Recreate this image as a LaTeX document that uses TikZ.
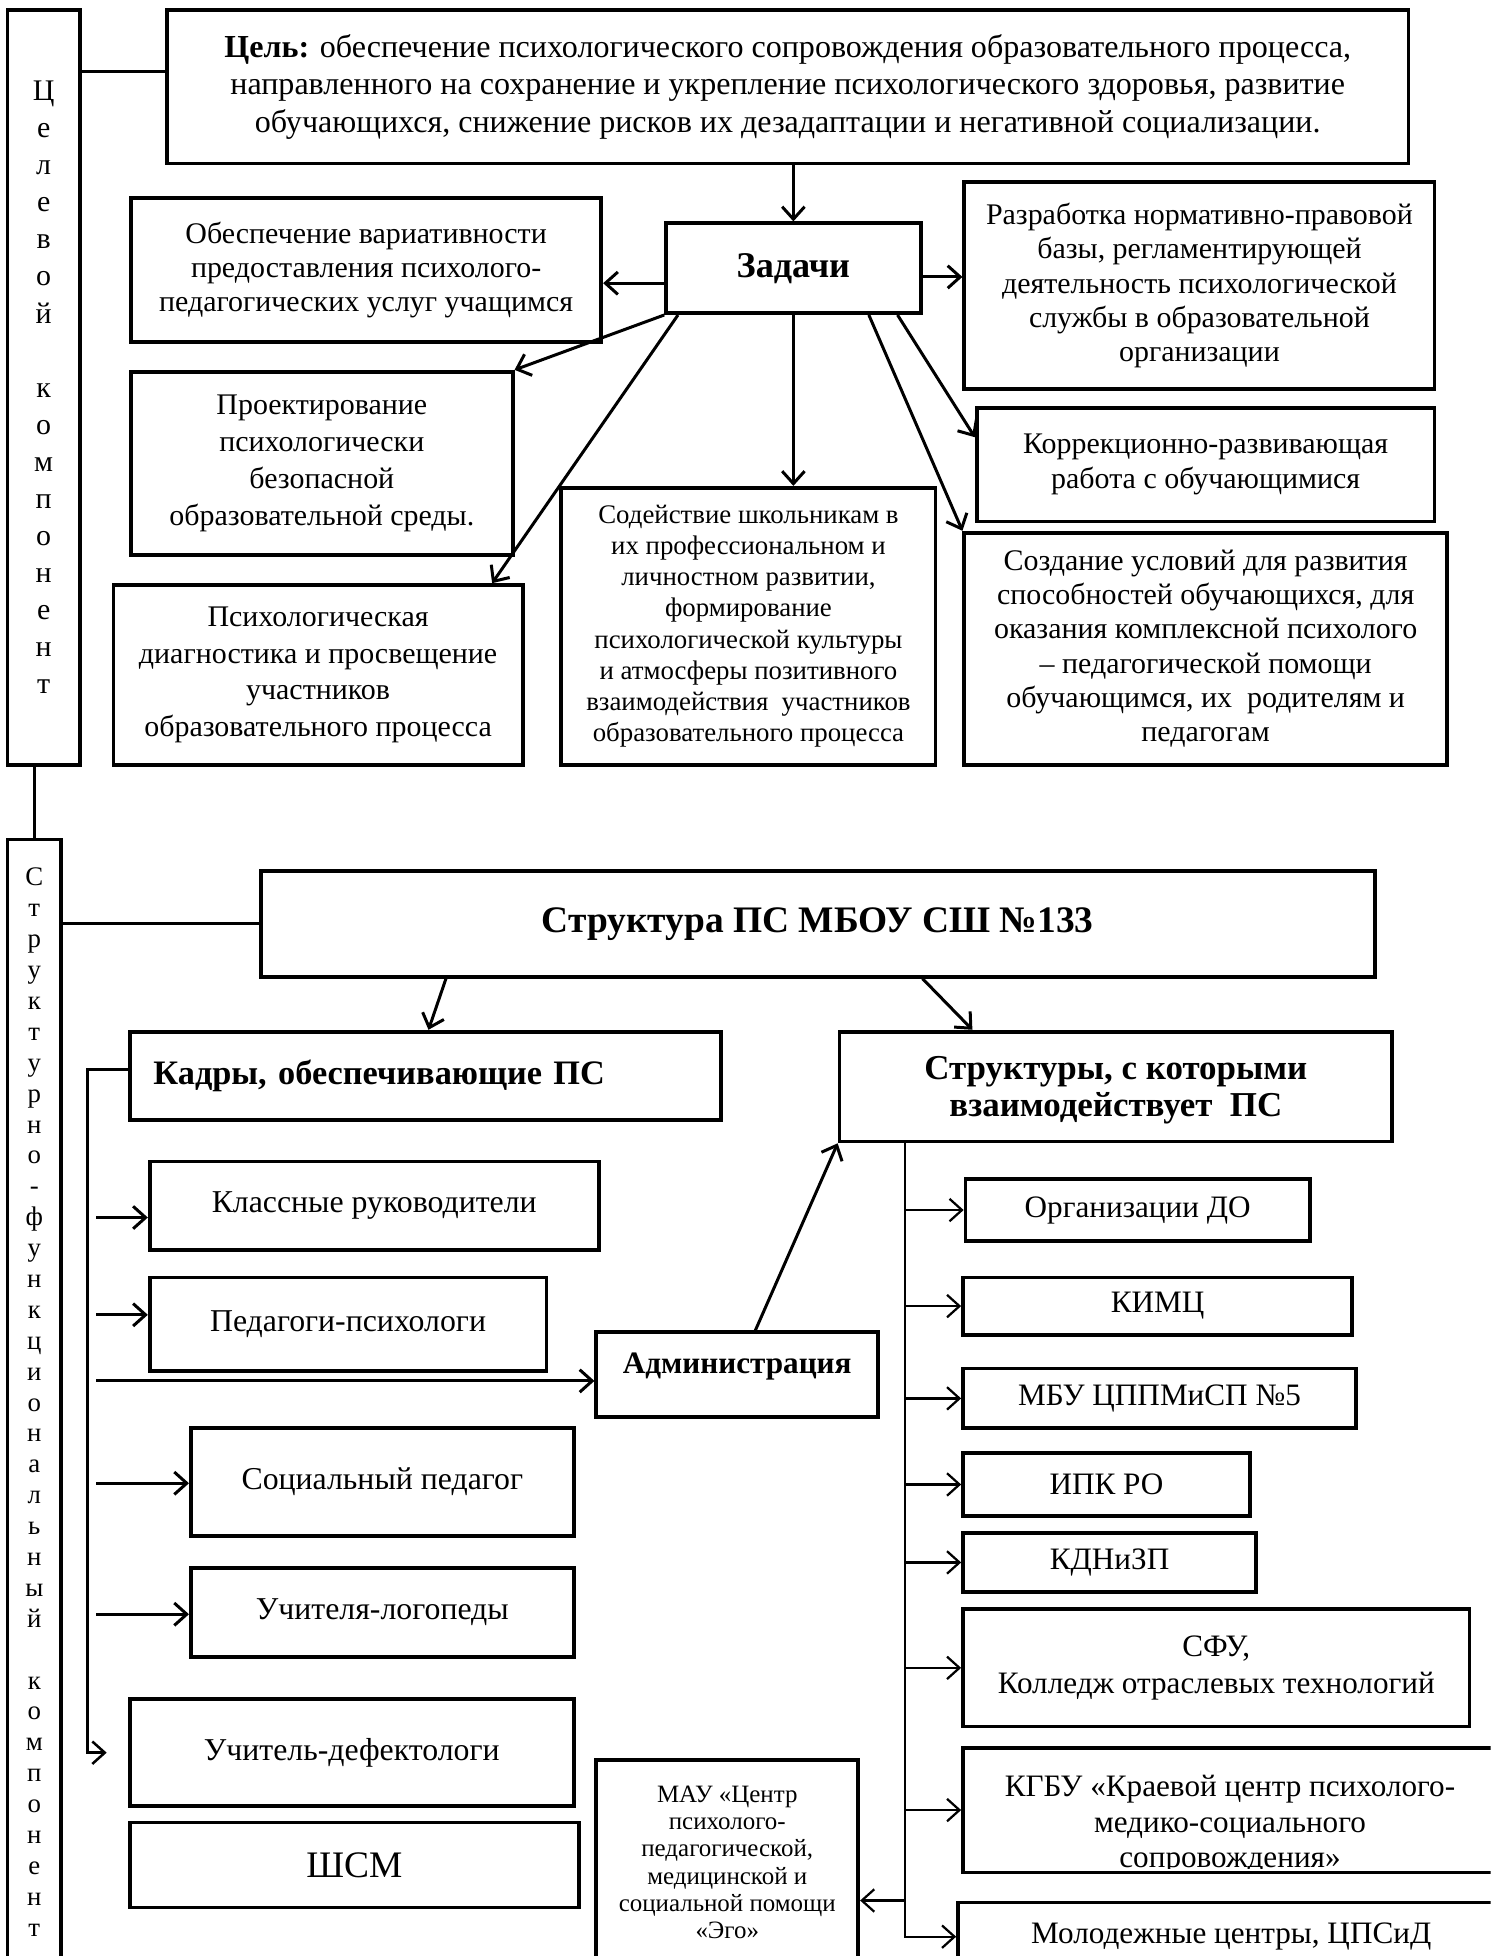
\documentclass[tikz,border=0pt]{standalone}
\usepackage{fontspec}
\setmainfont{Liberation Serif}
\usetikzlibrary{arrows.meta}

\begin{document}
\begin{tikzpicture}[
    x=1pt, y=-1pt,
    % Обычные блоки
    blk/.style={
        draw, line width=3pt, align=center, inner sep=0pt,
        font=\fontsize{24}{28}\selectfont
    },
    % Заголовочные блоки
    blkb/.style={
        blk, font=\fontsize{29}{31}\selectfont\bfseries
    },
    lin/.style={draw, line width=2.4pt},
    strel/.style={draw, line width=2.4pt, -{Straight Barb[length=10pt,width=18pt]}},
    strelt/.style={draw, line width=1.8pt, -{Straight Barb[length=10pt,width=18pt]}}
]

\useasboundingbox (0,0) rectangle (1195,1568);
\clip (0,0) rectangle (1195,1568);

% ---- ЦЕЛЕВОЙ КОМПОНЕНТ ----
\node[blk, minimum width=58, minimum height=605, font=\fontsize{24}{29.7}\selectfont] (cel) at (35,310.5)
    {Ц\\е\\л\\е\\в\\о\\й\\[29.7pt]к\\о\\м\\п\\о\\н\\е\\н\\т};

\node[blk, minimum width=995, minimum height=123, font=\fontsize{25.7}{30}\selectfont] (goal) at (631.5,69.5)
    {\textbf{Цель:} обеспечение психологического сопровождения образовательного процесса,\\
     направленного на сохранение и укрепление психологического здоровья, развитие\\
     обучающихся, снижение рисков их дезадаптации и негативной социализации.};

\coordinate (c_goal) at ([yshift=12.5pt]goal.west);
\draw[lin] (c_goal) -- (c_goal -| cel.east);

% ---- ЗАДАЧИ ----
\node[blkb, minimum width=204, minimum height=72] (zad) at (636,215) {Задачи};
\draw[strel] (zad.north |- goal.south) -- (zad.north);

\node[blk, minimum width=377, minimum height=115, font=\fontsize{24}{27.5}\selectfont] (z1) at (293.5,216.5)
    {Обеспечение вариативности\\предоставления психолого-\\педагогических услуг учащимся};
\node[blk, minimum width=377, minimum height=166, font=\fontsize{24}{27.5}\selectfont] (z2) at (961.5,229)
    {Разработка нормативно-правовой\\базы, регламентирующей\\деятельность психологической\\службы в образовательной\\организации};
\node[blk, minimum width=306, minimum height=147, font=\fontsize{24}{29.5}\selectfont] (z3) at (258,371.5)
    {Проектирование\\психологически\\безопасной\\образовательной среды.};
\node[blk, minimum width=328, minimum height=144, font=\fontsize{24}{29.5}\selectfont] (z4) at (255,541)
    {Психологическая\\диагностика и просвещение\\участников\\образовательного процесса};
\node[blk, minimum width=300, minimum height=222, font=\fontsize{21.5}{25}\selectfont] (z5) at (600,502)
    {Содействие школьникам в\\их профессиональном и\\личностном развитии,\\формирование\\психологической культуры\\и атмосферы позитивного\\взаимодействия~~участников\\образовательного процесса};
\node[blk, minimum width=367, minimum height=91, font=\fontsize{24}{28}\selectfont] (z6) at (966.5,372.5)
    {Коррекционно-развивающая\\работа с обучающимися};
\node[blk, minimum width=387, minimum height=186, font=\fontsize{24}{27.5}\selectfont] (z7) at (966.5,520)
    {Создание условий для развития\\способностей обучающихся, для\\оказания комплексной психолого\\– педагогической помощи\\обучающимся, их~~родителям и\\педагогам};

\coordinate (c_zl) at ([yshift=-12pt]zad.west);
\coordinate (c_zr) at ([yshift=-7pt]zad.east);
\draw[strel] (c_zl) -- (c_zl -| z1.east);
\draw[strel] (c_zr) -- (c_zr -| z2.west);
\draw[strel] (zad.south west) -- (z3.north east);
\draw[strel] ([xshift=11pt]zad.south west) -- ([xshift=-26pt]z4.north east);
\draw[strel] (zad.south) -- (zad.south |- z5.north);
\draw[strel] ([xshift=-20pt]zad.south east) -- ([yshift=22pt]z6.west);
\draw[strel] ([xshift=-43pt]zad.south east) -- (z7.north west);

% ---- СТРУКТУРНО-ФУНКЦИОНАЛЬНЫЙ КОМПОНЕНТ ----
\node[blk, minimum width=43, minimum height=902, font=\fontsize{21.5}{24.76}\selectfont] (sk) at (27.5,1124)
    {С\\т\\р\\у\\к\\т\\у\\р\\н\\о\\-\\ф\\у\\н\\к\\ц\\и\\о\\н\\а\\л\\ь\\н\\ы\\й\\[24.76pt]к\\о\\м\\п\\о\\н\\е\\н\\т};
\draw[lin] (sk.north) -- (sk.north |- cel.south);

\node[blkb, minimum width=893, minimum height=85, font=\fontsize{30}{32}\selectfont\bfseries] (str) at (655.5,740.5)
    {Структура ПС МБОУ СШ №133};
\draw[lin] (str.west) -- (str.west -| sk.east);

\node[blk, minimum width=474, minimum height=71, inner xsep=19pt, text width=436pt, align=left,
      font=\fontsize{27.5}{31}\selectfont\bfseries] (kadry) at (341,862.5) {Кадры, обеспечивающие ПС};
\node[blkb, minimum width=443, minimum height=88, text depth=0pt, font=\fontsize{28}{30}\selectfont\bfseries] (vz) at (894.5,871)
    {Структуры, с которыми\\взаимодействует~~ПС};

\draw[strel] ([xshift=150pt]str.south west) -- ([xshift=241pt]kadry.north west);
\draw[strel] ([xshift=532pt]str.south west) -- ([xshift=108pt]vz.north west);

% ---- КАДРЫ ----
\node[blk, minimum width=360, minimum height=71, font=\fontsize{25.5}{30}\selectfont] (k1) at (300,966.5) {Классные руководители};
\node[blk, minimum width=318, minimum height=75, font=\fontsize{25.5}{30}\selectfont] (k2) at (279,1061.5) {Педагоги-психологи};
\node[blk, minimum width=226, minimum height=68, text depth=18pt, font=\fontsize{25}{30}\selectfont\bfseries] (adm) at (591,1102) {Администрация};
\node[blk, minimum width=307, minimum height=86, font=\fontsize{25.5}{30}\selectfont] (k3) at (306.5,1188) {Социальный педагог};
\node[blk, minimum width=307, minimum height=71, font=\fontsize{25.5}{30}\selectfont] (k4) at (306.5,1292.5) {Учителя-логопеды};
\node[blk, minimum width=356, minimum height=86, font=\fontsize{25.5}{30}\selectfont] (k5) at (282,1405) {Учитель-дефектологи};
\node[blk, minimum width=360, minimum height=68, font=\fontsize{30}{32}\selectfont] (k6) at (284,1495) {ШСМ};

% шина кадров
\coordinate (bus_k) at (70,1405);
\coordinate (ax) at (77,0);
\draw[strel, line width=2pt, shorten >=17pt] ([yshift=5pt]kadry.west) -| (bus_k) -- (k5.west);
\foreach \n/\dy in {k1/-9.5, k2/7.5, adm/-5, k3/-1, k4/-1.5}{
    \coordinate (a\n) at ([yshift=\dy pt]\n.west);
    \draw[strel] (a\n -| ax) -- (a\n);
}
\draw[strel] ([xshift=129pt]adm.north west) -- (vz.south west);

% ---- СТРУКТУРЫ ----
\node[blk, minimum width=276, minimum height=50, font=\fontsize{25}{30}\selectfont] (s1) at (912,970) {Организации ДО};
\node[blk, minimum width=312, minimum height=46, font=\fontsize{25}{30}\selectfont] (s2) at (928,1047) {КИМЦ};
\node[blk, minimum width=315, minimum height=48, font=\fontsize{25}{30}\selectfont] (s3) at (929.5,1121) {МБУ ЦППМиСП №5};
\node[blk, minimum width=230, minimum height=50, font=\fontsize{25}{30}\selectfont] (s4) at (887,1190) {ИПК РО};
\node[blk, minimum width=235, minimum height=47, font=\fontsize{25}{30}\selectfont] (s5) at (889.5,1252.5) {КДНиЗП};
\node[blk, minimum width=406, minimum height=94, font=\fontsize{25}{30}\selectfont] (s6) at (975,1337)
    {СФУ,\\Колледж отраслевых технологий};
\begin{scope}
    \clip (772,1401) rectangle (1200,1498);
    \node[align=center, inner sep=0pt, font=\fontsize{25}{28.5}\selectfont] (s7t) at (986,1463)
        {КГБУ «Краевой центр психолого-\\медико-социального\\сопровождения»};
\end{scope}
\node[blk, minimum width=428, minimum height=100] (s7) at (986,1451) {};
\node[blk, minimum width=438, minimum height=55, font=\fontsize{25}{30}\selectfont] (s8) at (987,1552.5) {Молодежные центры, ЦПСиД};
\node[blk, minimum width=210, minimum height=164, font=\fontsize{20}{21.8}\selectfont] (mau) at (583,1493)
    {МАУ «Центр\\психолого-\\педагогической,\\медицинской и\\социальной помощи\\«Эго»};

% шина структур
\coordinate (bus_s) at ([xshift=54pt]vz.south west);
\draw[strelt] (bus_s) |- (s8.west);
\foreach \n in {s1,s2,s3,s4,s5,s6,s7}{
    \draw[strelt] (bus_s |- \n.west) -- (\n.west);
}
\draw[strelt] (bus_s |- s8.north) -- (s8.north -| mau.east);

\end{tikzpicture}
\end{document}
